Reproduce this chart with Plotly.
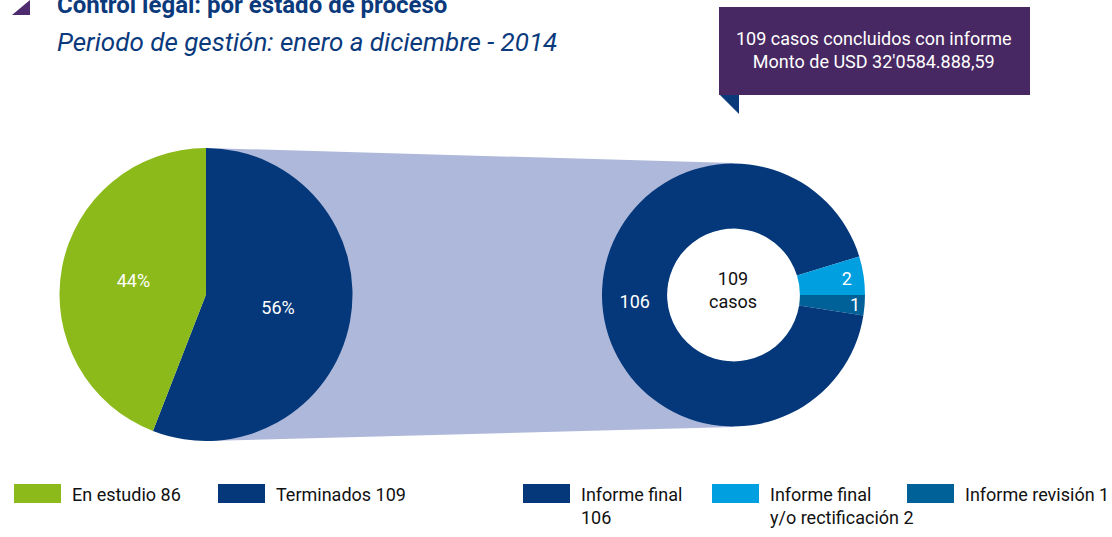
import plotly.graph_objects as go

W, H = 1112, 537

# left pie: case status
estado_labels = ["Terminados 109", "En estudio 86"]
estado_values = [109, 86]
estado_colors = ["#04387A", "#8CBA1A"]

# right donut: finished cases by report type (arcs as drawn in the original)
informe_labels = ["Informe revisión 1", "Informe final 106", "Informe final y/o rectificación 2"]
informe_counts = [1, 106, 2]
informe_arc_deg = [9, 334, 17]
informe_colors = ["#006199", "#04387A", "#009FE0"]

legend_items = [
    ("En estudio 86", "#8CBA1A", 14),
    ("Terminados 109", "#04387A", 218),
    ("Informe final<br>106", "#04387A", 523),
    ("Informe final<br>y/o rectificación 2", "#009FE0", 712),
    ("Informe revisión 1", "#006199", 907),
]

FONT = "Roboto, Liberation Sans, sans-serif"


def px_domain(cx, cy, r):
    return {
        "x": [(cx - r) / W, (cx + r) / W],
        "y": [(H - cy - r) / H, (H - cy + r) / H],
    }


fig = go.Figure()

fig.add_trace(
    go.Pie(
        labels=estado_labels,
        values=estado_values,
        marker={"colors": estado_colors, "line": {"width": 0}},
        sort=False,
        direction="clockwise",
        rotation=0,
        texttemplate="%{percent:.0%}",
        textposition="inside",
        insidetextorientation="horizontal",
        textfont={"family": FONT, "size": 18, "color": "white"},
        domain=px_domain(206, 294.5, 146.5),
        showlegend=False,
        hoverinfo="label+value+percent",
    )
)

fig.add_trace(
    go.Pie(
        labels=informe_labels,
        values=informe_arc_deg,
        customdata=informe_counts,
        hole=0.505,
        marker={"colors": informe_colors, "line": {"width": 0}},
        sort=False,
        direction="clockwise",
        rotation=90,
        texttemplate="%{customdata}",
        textposition="inside",
        insidetextorientation="horizontal",
        textfont={"family": FONT, "size": 18, "color": "white"},
        domain=px_domain(733.5, 295, 131.5),
        showlegend=False,
        hovertemplate="%{label}<extra></extra>",
    )
)

annotations = [
    dict(x=733, y=290, text="109<br>casos", showarrow=False,
         font={"family": FONT, "size": 18, "color": "#111111"}),
    dict(x=55, y=5, text="<b>Control legal: por estado de proceso</b>", showarrow=False,
         xanchor="left", font={"family": FONT, "size": 24, "color": "#0B3A7C"}),
    dict(x=55, y=42, text="<i>Periodo de gestión: enero a diciembre - 2014</i>", showarrow=False,
         xanchor="left", font={"family": FONT, "size": 26, "color": "#0B3A7C"}),
    dict(x=874, y=50, text="109 casos concluidos con informe<br>Monto de USD 32'0584.888,59",
         showarrow=False, font={"family": FONT, "size": 18, "color": "white"}),
]

shapes = [
    # connector band behind the pies, white disc to keep the donut hole clean
    dict(type="path", path="M 206 148 L 733 163 L 733 427 L 206 441 Z",
         fillcolor="#AEB8DA", line={"width": 0}, layer="below"),
    dict(type="circle", x0=667, x1=800, y0=228.5, y1=361.5,
         fillcolor="white", line={"width": 0}, layer="below"),
    # title marker
    dict(type="path", path="M 12 15 L 30 0 L 30 15 Z", fillcolor="#4E2A6E", line={"width": 0}),
    # callout box and pointer
    dict(type="rect", x0=719, x1=1030, y0=7, y1=95, fillcolor="#482862", line={"width": 0}),
    dict(type="path", path="M 720 95 L 739 95 L 739 114 Z", fillcolor="#0A3A7A", line={"width": 0}),
]

for text, color, x0 in legend_items:
    shapes.append(dict(type="rect", x0=x0, x1=x0 + 47, y0=484, y1=503,
                       fillcolor=color, line={"width": 0}))
    annotations.append(dict(x=x0 + 56, y=482, text=text, showarrow=False,
                            xanchor="left", yanchor="top", align="left",
                            font={"family": FONT, "size": 18, "color": "#111111"}))

for s in shapes:
    s.setdefault("xref", "x")
    s.setdefault("yref", "y")
for a in annotations:
    a.setdefault("xref", "x")
    a.setdefault("yref", "y")

fig.update_layout(
    width=W, height=H,
    margin={"l": 0, "r": 0, "t": 0, "b": 0},
    paper_bgcolor="white", plot_bgcolor="white",
    xaxis={"range": [0, W], "visible": False, "fixedrange": True},
    yaxis={"range": [H, 0], "visible": False, "fixedrange": True},
    uniformtext={"minsize": 18, "mode": "show"},
    shapes=shapes,
    annotations=annotations,
)

fig.write_html(
    "out.html",
    config={"displayModeBar": False},
    post_script="document.body.style.margin='0';",
)
